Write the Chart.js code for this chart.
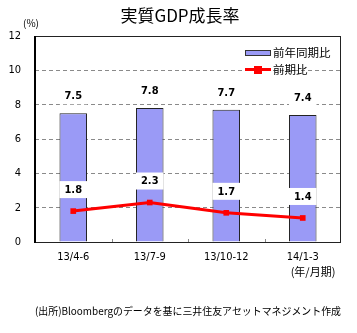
<!DOCTYPE html>
<html><head><meta charset="utf-8">
<script src="https://cdn.jsdelivr.net/npm/chart.js@4"></script>
<style>html,body{margin:0;padding:0;background:#fff;}#wrap{width:357px;height:333px;position:relative;}</style>
</head><body><div id="wrap"><canvas id="c" width="357" height="333"></canvas></div>
<script>
const categories = ['13/4-6', '13/7-9', '13/10-12', '14/1-3'];
const yoyValues = [7.5, 7.8, 7.7, 7.4];
const qoqValues = [1.8, 2.3, 1.7, 1.4];
const yTicks = [0, 2, 4, 6, 8, 10, 12];
const seriesNames = ['前年同期比', '前期比'];
const titleText = '実質GDP成長率';
const unitText = '(%)';
const xUnitText = '(年/月期)';
const sourceText = '(出所)Bloombergのデータを基に三井住友アセットマネジメント作成';

const JP = '"Noto Sans CJK JP", sans-serif';
const NUM = '"DejaVu Sans Condensed", "DejaVu Sans", sans-serif';
const BAR_FILL = '#9a9af6';
const RED = '#ff0000';

const extras = {
  id: 'extras',
  afterDraw(chart) {
    const ctx = chart.ctx;
    const a = chart.chartArea;
    const xs = chart.scales.x;
    ctx.save();
    // plot border
    ctx.strokeStyle = '#222';
    ctx.lineWidth = 1;
    ctx.strokeRect(a.left + 0.5, a.top + 0.5, a.right - a.left - 1, a.bottom - a.top);
    ctx.lineWidth = 2;
    ctx.strokeStyle = '#000';
    ctx.beginPath(); ctx.moveTo(a.left, a.top); ctx.lineTo(a.left, a.bottom + 1); ctx.stroke();
    // small inner tick marks at category boundaries
    ctx.strokeStyle = '#888'; ctx.lineWidth = 1;
    for (let i = 1; i < categories.length; i++) {
      const x = Math.round((xs.getPixelForValue(i - 1) + xs.getPixelForValue(i)) / 2) + 0.5;
      ctx.beginPath(); ctx.moveTo(x, a.bottom - 3); ctx.lineTo(x, a.bottom); ctx.stroke();
    }
    // title
    ctx.fillStyle = '#000';
    ctx.textAlign = 'center'; ctx.textBaseline = 'middle';
    ctx.font = '17px ' + JP;
    ctx.fillText(titleText, 180, 16);
    ctx.font = '10px ' + JP;
    ctx.fillText(unitText, 31, 23);
    // x unit
    ctx.font = '11px ' + JP;
    ctx.fillText(xUnitText, 313, 272);
    // source
    ctx.textAlign = 'left';
    ctx.font = '10.5px ' + JP;
    ctx.fillText(sourceText, 35, 311, 306);
    // data labels
    const drawLabel = (txt, x, y) => {
      ctx.font = 'bold 11px ' + NUM;
      const w = ctx.measureText(txt).width + 10;
      ctx.fillStyle = '#fff';
      ctx.fillRect(x - w / 2, y - 8, w, 17);
      ctx.fillStyle = '#000';
      ctx.textAlign = 'center'; ctx.textBaseline = 'middle';
      ctx.fillText(txt, x, y + 1);
    };
    const mBar = chart.getDatasetMeta(1);
    const mLine = chart.getDatasetMeta(0);
    yoyValues.forEach((v, i) => {
      const el = mBar.data[i];
      drawLabel(v.toFixed(1), el.x, el.y - 18);
    });
    qoqValues.forEach((v, i) => {
      const el = mLine.data[i];
      drawLabel(v.toFixed(1), el.x, el.y - 22);
    });
    // legend
    ctx.fillStyle = BAR_FILL; ctx.strokeStyle = '#333'; ctx.lineWidth = 1;
    ctx.fillRect(245, 50, 26, 6); ctx.strokeRect(245.5, 50.5, 25, 5);
    ctx.strokeStyle = RED; ctx.lineWidth = 3;
    ctx.beginPath(); ctx.moveTo(245, 69.5); ctx.lineTo(271, 69.5); ctx.stroke();
    ctx.fillStyle = RED; ctx.fillRect(254, 66, 8, 8);
    ctx.fillStyle = '#000'; ctx.textAlign = 'left'; ctx.textBaseline = 'middle';
    ctx.font = '11.5px ' + JP;
    ctx.fillText(seriesNames[0], 273, 53);
    ctx.fillText(seriesNames[1], 273, 70);
    ctx.restore();
  }
};

new Chart(document.getElementById('c'), {
  data: {
    labels: categories,
    datasets: [
      { type: 'line', label: seriesNames[1], data: qoqValues, borderColor: RED, backgroundColor: RED,
        borderWidth: 3, pointStyle: 'rect', pointRadius: 4, pointBorderWidth: 0, tension: 0, order: 0 },
      { type: 'bar', label: seriesNames[0], data: yoyValues, backgroundColor: BAR_FILL, borderColor: '#222',
        borderWidth: 1, barPercentage: 0.36, categoryPercentage: 1.0, order: 1 }
    ]
  },
  options: {
    responsive: false, animation: false,
    layout: { padding: { top: 36, right: 16, left: 0, bottom: 0 } },
    plugins: { legend: { display: false }, tooltip: { enabled: false } },
    scales: {
      x: {
        grid: { display: false, drawTicks: false },
        border: { display: false },
        ticks: { color: '#000', font: { family: NUM, size: 11 }, padding: 9, maxRotation: 0 },
        afterFit(s) { s.height = 91; }
      },
      y: {
        min: 0, max: 12,
        afterBuildTicks(s) { s.ticks = yTicks.map(v => ({ value: v })); },
        grid: { color: '#8a8a8a', lineWidth: 1, drawTicks: false, borderDash: [4, 3] },
        border: { display: false, dash: [4, 3] },
        ticks: { color: '#000', font: { family: NUM, size: 11 }, padding: 14 },
        afterFit(s) { s.width = 35; }
      }
    }
  },
  plugins: [extras]
});
</script></body></html>
